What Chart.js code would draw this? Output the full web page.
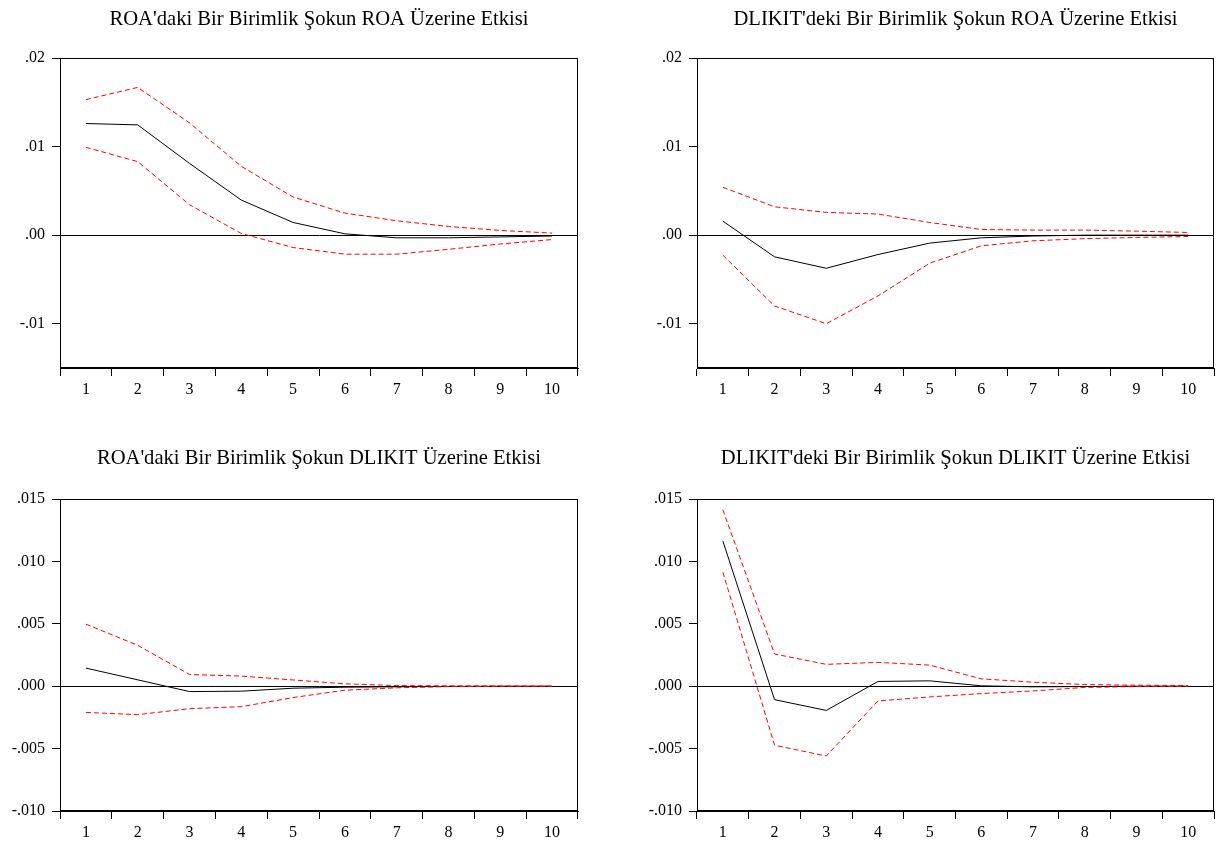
<!DOCTYPE html>
<html><head><meta charset="utf-8">
<script src="https://cdn.jsdelivr.net/npm/chart.js@4"></script>
<style>
body{margin:0;background:#fff;width:1217px;height:843px;position:relative;overflow:hidden}
canvas{position:absolute}
</style></head><body>
<script>
// ---- data ----
const periods = ['1','2','3','4','5','6','7','8','9','10'];

const titles = [
  "ROA'daki Bir Birimlik Şokun ROA Üzerine Etkisi",
  "DLIKIT'deki Bir Birimlik Şokun ROA Üzerine Etkisi",
  "ROA'daki Bir Birimlik Şokun DLIKIT Üzerine Etkisi",
  "DLIKIT'deki Bir Birimlik Şokun DLIKIT Üzerine Etkisi"
];

const roaRoaResp  = [0.0126, 0.01245, 0.0081, 0.00396, 0.00143, 0.00015, -0.0003, -0.0003, -0.0002, -0.0001];
const roaRoaUpper = [0.0153, 0.01668, 0.01268, 0.00777, 0.0043, 0.00249, 0.00162, 0.00098, 0.00053, 0.00023];
const roaRoaLower = [0.00992, 0.0083, 0.00343, 0.00019, -0.0014, -0.00215, -0.00215, -0.0016, -0.001, -0.0005];

const dlkRoaResp  = [0.00158, -0.00245, -0.00374, -0.00219, -0.0009, -0.0003, -0.0001, 0.0, 0.0, 0.0];
const dlkRoaUpper = [0.0054, 0.0032, 0.00257, 0.00238, 0.00143, 0.00064, 0.00057, 0.00057, 0.00045, 0.0003];
const dlkRoaLower = [-0.00226, -0.008, -0.01, -0.00687, -0.00317, -0.0012, -0.00064, -0.0004, -0.00026, -0.00015];

const roaDlkResp  = [0.00145, 0.00051, -0.00043, -0.0004, -0.00016, -0.00008, -0.00005, -0.00002, 0.0, 0.0];
const roaDlkUpper = [0.00497, 0.00328, 0.00094, 0.00081, 0.0005, 0.00019, 0.00005, 0.00003, 0.00002, 0.00001];
const roaDlkLower = [-0.0021, -0.00228, -0.0018, -0.00164, -0.00091, -0.00032, -0.00013, -0.00003, -0.00002, -0.00001];

const dlkDlkResp  = [0.01164, -0.00108, -0.00194, 0.00038, 0.00043, 0.00003, -0.00005, -0.00003, 0.0, 0.0];
const dlkDlkUpper = [0.01414, 0.00258, 0.00175, 0.00191, 0.00169, 0.00059, 0.00032, 0.00013, 0.00008, 0.00005];
const dlkDlkLower = [0.00914, -0.00473, -0.00559, -0.00118, -0.00086, -0.00059, -0.00038, -0.0001, -0.00003, -0.00002];

const yTicksTop = [-0.01, 0, 0.01, 0.02];
const yTickLabelsTop = ['-.01', '.00', '.01', '.02'];
const yRangeTop = [-0.015, 0.02];

const yTicksBottom = [-0.01, -0.005, 0, 0.005, 0.01, 0.015];
const yTickLabelsBottom = ['-.010', '-.005', '.000', '.005', '.010', '.015'];
const yRangeBottom = [-0.01, 0.015];

// ---- layout ----
const panels = [
  {title: titles[0], resp: roaRoaResp, up: roaRoaUpper, lo: roaRoaLower, ticks: yTicksTop, labels: yTickLabelsTop, range: yRangeTop,
   cx: 0, cy: 0, w: 600, h: 420, area: {left: 60, right: 578, top: 58, bottom: 368}, tc: 20},
  {title: titles[1], resp: dlkRoaResp, up: dlkRoaUpper, lo: dlkRoaLower, ticks: yTicksTop, labels: yTickLabelsTop, range: yRangeTop,
   cx: 610, cy: 0, w: 607, h: 420, area: {left: 87, right: 604, top: 58, bottom: 368}, tc: 20},
  {title: titles[2], resp: roaDlkResp, up: roaDlkUpper, lo: roaDlkLower, ticks: yTicksBottom, labels: yTickLabelsBottom, range: yRangeBottom,
   cx: 0, cy: 440, w: 600, h: 403, area: {left: 60, right: 578, top: 59, bottom: 371}, tc: 19},
  {title: titles[3], resp: dlkDlkResp, up: dlkDlkUpper, lo: dlkDlkLower, ticks: yTicksBottom, labels: yTickLabelsBottom, range: yRangeBottom,
   cx: 610, cy: 440, w: 607, h: 403, area: {left: 87, right: 604, top: 59, bottom: 371}, tc: 19}
];

Chart.defaults.font.family = "'Liberation Serif', 'Times New Roman', serif";
Chart.defaults.color = '#000';

const frame = {
  id: 'frame',
  afterDraw(chart) {
    const a = chart.chartArea, c = chart.ctx;
    c.save();
    c.strokeStyle = '#000';
    c.lineWidth = 1;
    c.strokeRect(Math.round(a.left) + 0.5, Math.round(a.top) + 0.5, Math.round(a.right - a.left) - 1, Math.round(a.bottom - a.top) - 1);
    c.restore();
  }
};

panels.forEach(p => {
  const cv = document.createElement('canvas');
  cv.width = p.w; cv.height = p.h;
  cv.style.left = p.cx + 'px'; cv.style.top = p.cy + 'px';
  cv.style.width = p.w + 'px'; cv.style.height = p.h + 'px';
  document.body.appendChild(cv);
  const fs = 20.6, lh = 24;
  new Chart(cv, {
    type: 'line',
    data: {
      labels: periods,
      datasets: [
        {data: p.up, borderColor: '#ff0000', borderWidth: 1, borderDash: [5, 3], pointRadius: 0, tension: 0, fill: false},
        {data: p.lo, borderColor: '#ff0000', borderWidth: 1, borderDash: [5, 3], pointRadius: 0, tension: 0, fill: false},
        {data: p.resp, borderColor: '#000000', borderWidth: 1, pointRadius: 0, tension: 0, fill: false}
      ]
    },
    options: {
      responsive: false,
      animation: false,
      devicePixelRatio: 1,
      layout: {padding: {left: 0, right: p.w - p.area.right, top: 0, bottom: 0}},
      plugins: {
        legend: {display: false},
        tooltip: {enabled: false},
        title: {
          display: true, text: p.title, fullSize: false,
          font: {size: fs, weight: 'normal', lineHeight: lh / fs},
          color: '#000',
          padding: {top: p.tc - lh / 2, bottom: p.area.top - (p.tc + lh / 2)}
        }
      },
      scales: {
        x: {
          type: 'category',
          offset: true,
          grid: {offset: true, drawOnChartArea: false, drawTicks: true, tickLength: 8, tickColor: '#000', color: '#000'},
          border: {display: true, color: '#000', width: 1},
          ticks: {font: {size: 16}, color: '#000', padding: 4, maxRotation: 0, autoSkip: false},
          afterFit(s) { s.height = p.h - p.area.bottom; }
        },
        y: {
          type: 'linear',
          min: p.range[0], max: p.range[1],
          afterBuildTicks(s) { s.ticks = p.ticks.map(v => ({value: v})); },
          grid: {
            drawOnChartArea: true, drawTicks: true, tickLength: 8, tickColor: '#000',
            color: ctx => (ctx.tick && Math.abs(ctx.tick.value) < 1e-12) ? '#000' : 'rgba(0,0,0,0)'
          },
          border: {display: true, color: '#000', width: 1},
          ticks: {
            font: {size: 16}, color: '#000', padding: 7, autoSkip: false,
            callback: (v, i) => p.labels[i]
          },
          afterFit(s) { s.width = p.area.left; }
        }
      }
    },
    plugins: [frame]
  });
});
</script>
</body></html>
